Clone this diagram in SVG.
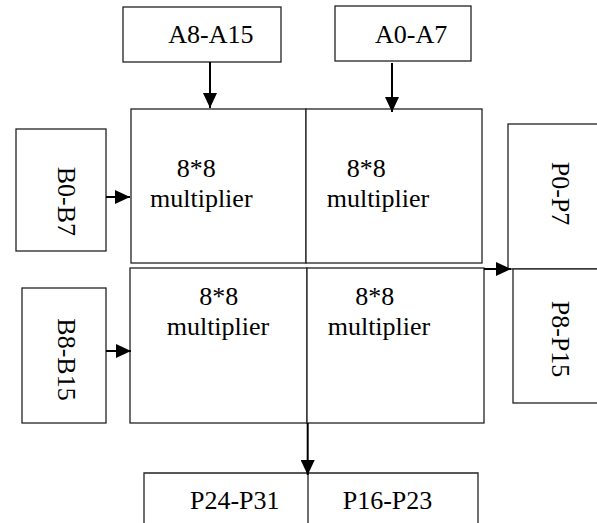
<svg xmlns="http://www.w3.org/2000/svg" width="597" height="523" viewBox="0 0 597 523">
<style>
.box{fill:#fff;stroke:#222;stroke-width:1.3}
.ln{fill:none;stroke:#222;stroke-width:1.3}
.t{font-family:"Liberation Serif","Times New Roman",serif;font-size:26px;fill:#000}
.c{stroke:#000;stroke-width:2;fill:none}
</style>
<defs>
<marker id="ah" markerWidth="15" markerHeight="14" refX="15" refY="7" orient="auto" markerUnits="userSpaceOnUse">
<path d="M0,0 L15,7 L0,14 Z" fill="#000"/>
</marker>
</defs>
<g id="a8a15"><rect class="box" x="123" y="7" width="158" height="55"/><text class="t" x="168.3" y="43">A8-A15</text></g>
<g id="a0a7"><rect class="box" x="335" y="6" width="136" height="55"/><text class="t" x="375" y="43">A0-A7</text></g>
<g id="mul-tl"><rect class="box" x="131" y="109" width="175" height="154"/><text class="t" x="176.7" y="176.7">8*8</text><text class="t" x="150" y="206.7">multiplier</text></g>
<g id="mul-tr"><rect class="box" x="306" y="109" width="176" height="154"/><text class="t" x="346.7" y="176.7">8*8</text><text class="t" x="326.7" y="206.7">multiplier</text></g>
<g id="mul-bl"><rect class="box" x="130" y="268" width="177" height="155"/><text class="t" x="199.3" y="305">8*8</text><text class="t" x="166.7" y="335">multiplier</text></g>
<g id="mul-br"><rect class="box" x="307" y="268" width="177" height="155"/><text class="t" x="355.3" y="305">8*8</text><text class="t" x="327.7" y="335">multiplier</text></g>
<g id="b0b7"><rect class="box" x="16" y="129" width="90" height="122"/><text class="t" transform="translate(58,166.7) rotate(90)">B0-B7</text></g>
<g id="b8b15"><rect class="box" x="22" y="288" width="84" height="135"/><text class="t" transform="translate(58.3,318.3) rotate(90)">B8-B15</text></g>
<g id="p0p7"><rect class="box" x="508" y="124" width="100" height="145"/><text class="t" transform="translate(551.7,161.7) rotate(90)">P0-P7</text></g>
<g id="p8p15"><rect class="box" x="513" y="269" width="95" height="134"/><text class="t" transform="translate(551.7,300.7) rotate(90)">P8-P15</text></g>
<g id="p24p31"><path class="ln" d="M144,530 V473 H308 V530"/><text class="t" x="190" y="509.3">P24-P31</text></g>
<g id="p16p23"><path class="ln" d="M308,473 H478 V530"/><text class="t" x="342.7" y="509.3">P16-P23</text></g>
<g id="connectors">
<line class="c" x1="210" y1="62" x2="210" y2="108" marker-end="url(#ah)"/>
<line class="c" x1="392" y1="63" x2="392" y2="112" marker-end="url(#ah)"/>
<line class="c" x1="106" y1="197" x2="130" y2="197" marker-end="url(#ah)"/>
<line class="c" x1="106" y1="351" x2="131" y2="351" marker-end="url(#ah)"/>
<line class="c" x1="484" y1="269" x2="511" y2="269" marker-end="url(#ah)"/>
<line class="c" x1="307.7" y1="423" x2="307.7" y2="475" marker-end="url(#ah)"/>
</g>
</svg>
